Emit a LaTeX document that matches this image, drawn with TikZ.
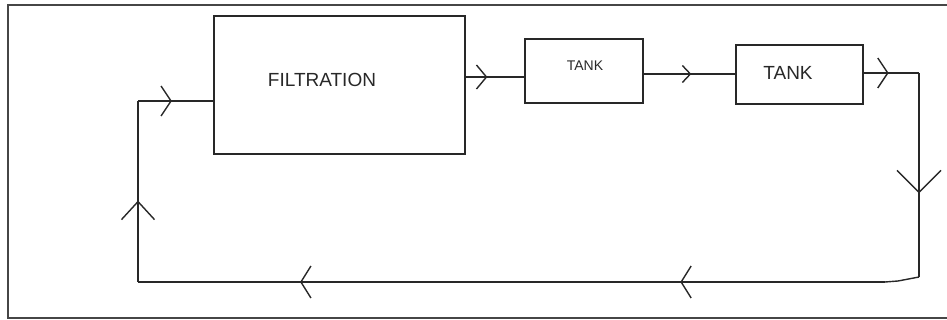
\documentclass[tikz,border=0pt]{standalone}
\usepackage{fontspec}
\setmainfont{Liberation Sans}
\usetikzlibrary{arrows.meta,decorations.markings}
\definecolor{linec}{RGB}{40,40,40}
\definecolor{framec}{RGB}{70,70,70}
\tikzset{
  flow/.style={draw=linec, line width=1.4pt},
  boxn/.style={draw=linec, line width=1.4pt, inner sep=0pt},
  lbl/.style={text=linec, inner sep=0pt},
  chev/.style n args={3}{postaction={decorate}, decoration={markings,
      mark=at position #1 with {\arrow[linec, line width=1.4pt]{Straight Barb[length=#2pt,width=#3pt]}}}},
}
\begin{document}
\begin{tikzpicture}[x=1pt,y=-1pt]
  \useasboundingbox (0,0) rectangle (947,320);
  \clip (0,0) rectangle (947,320);
  \draw[framec, line width=1.6pt] (8,5) rectangle (960,318);

  \node[boxn, minimum width=251pt, minimum height=138pt] (filt) at (339.5,85) {};
  \node[boxn, minimum width=118pt, minimum height=64pt] (tank1) at (584,71) {};
  \node[boxn, minimum width=127pt, minimum height=59pt] (tank2) at (799.5,74.5) {};

  \node[lbl, font=\fontsize{19}{19}\selectfont] (filtlbl) at (322,80) {FILTRATION};
  \node[lbl, font=\fontsize{14}{14}\selectfont] (tank1lbl) at (585,66) {TANK};
  \node[lbl, font=\fontsize{19}{19}\selectfont] (tank2lbl) at (788,73) {TANK};

  \coordinate (bl) at (138,282);
  \coordinate (tl) at (138,101);
  \coordinate (c1) at (0,77);
  \coordinate (c2) at (0,74);
  \coordinate (tr) at (919,73);
  \coordinate (brk) at (919,277);
  \coordinate (brk2) at (898,281);
  \coordinate (br) at (885,282);

  \draw[flow, chev={0.45}{18}{33}] (bl) -- (tl);
  \draw[flow, chev={0.45}{10}{30}] (tl) -- (filt.west |- tl);
  \draw[flow, chev={0.37}{10}{24}] (filt.east |- c1) -- (tank1.west |- c1);
  \draw[flow, chev={0.52}{8}{17}] (tank1.east |- c2) -- (tank2.west |- c2);
  \draw[flow, chev={0.45}{10}{30}] (tank2.east |- tr) -- (tr);
  \draw[flow, chev={0.59}{22}{44}] (tr) -- (brk);
  \draw[flow] (brk) -- (brk2) -- (br);
  \draw[flow, postaction={decorate}, decoration={markings,
      mark=at position 0.274 with {\arrow[linec, line width=1.4pt]{Straight Barb[length=10pt,width=32pt]}},
      mark=at position 0.783 with {\arrow[linec, line width=1.4pt]{Straight Barb[length=10pt,width=32pt]}}}]
    (br) -- (bl);
\end{tikzpicture}
\end{document}
